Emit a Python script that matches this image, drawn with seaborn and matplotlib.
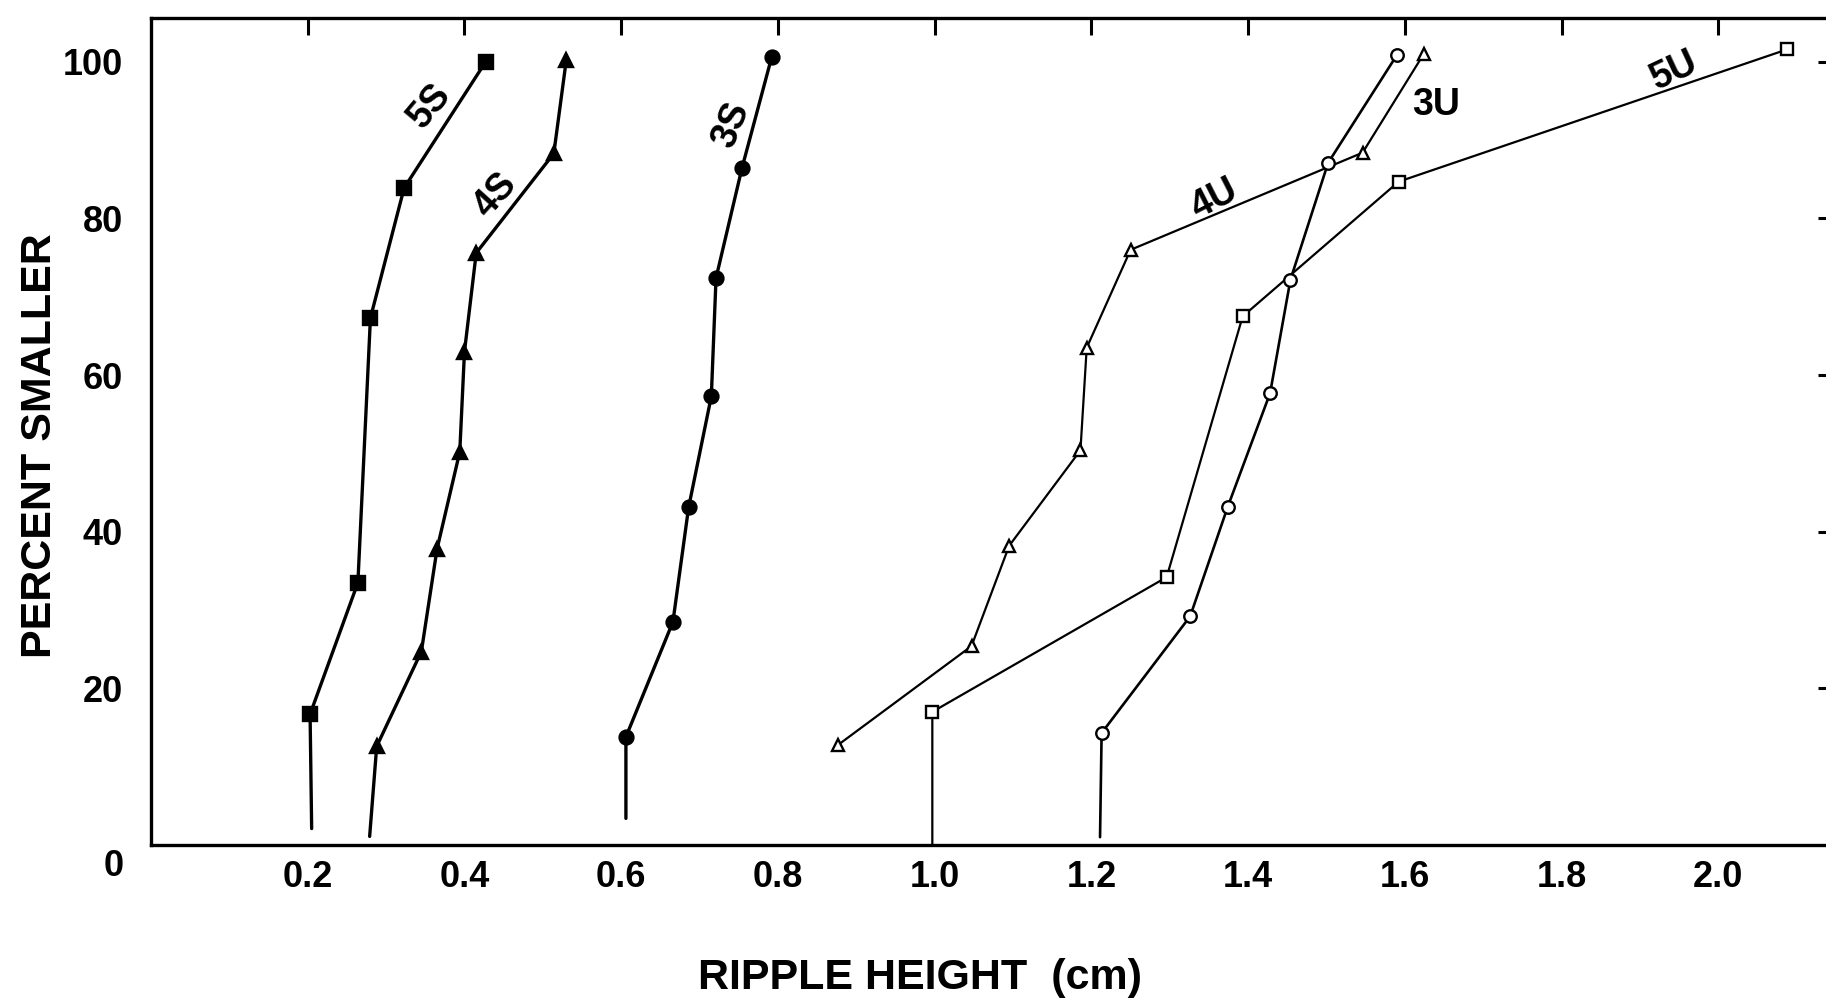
import matplotlib
matplotlib.use("Agg")
import matplotlib.pyplot as plt
import seaborn as sns
import pandas as pd

# ---------------- data ----------------
# first point of a series with a stub is the lower end of its vertical line (no marker)
s5_x = [0.205, 0.203, 0.264, 0.280, 0.323, 0.427]
s5_y = [2.1, 16.7, 33.5, 67.3, 83.9, 100.0]

s4_x = [0.279, 0.288, 0.345, 0.365, 0.394, 0.400, 0.415, 0.514, 0.530]
s4_y = [1.1, 12.6, 24.7, 37.8, 50.2, 63.0, 75.6, 88.3, 100.3]

s3_x = [0.606, 0.606, 0.666, 0.686, 0.715, 0.721, 0.754, 0.792]
s3_y = [3.4, 13.8, 28.5, 43.1, 57.3, 72.4, 86.4, 100.6]

u4_x = [0.877, 1.047, 1.095, 1.186, 1.194, 1.250, 1.546, 1.624]
u4_y = [12.8, 25.4, 38.2, 50.4, 63.5, 76.0, 88.4, 101.0]

u5_x = [0.997, 0.997, 1.296, 1.393, 1.592, 2.088]
u5_y = [0.0, 17.0, 34.2, 67.5, 84.7, 101.6]

u3_x = [1.211, 1.213, 1.326, 1.374, 1.428, 1.454, 1.502, 1.590]
u3_y = [1.0, 14.3, 29.2, 43.2, 57.7, 72.2, 87.1, 100.9]

x_ticks = [0.2, 0.4, 0.6, 0.8, 1.0, 1.2, 1.4, 1.6, 1.8, 2.0]
x_tick_labels = ["0.2", "0.4", "0.6", "0.8", "1.0", "1.2", "1.4", "1.6", "1.8", "2.0"]
y_ticks = [20, 40, 60, 80, 100]
y_tick_labels = ["20", "40", "60", "80", "100"]

series_labels = ["5S", "4S", "3S", "4U", "3U", "5U"]
label_x = [0.356, 0.439, 0.741, 1.357, 1.640, 1.944]
label_y = [94.3, 83.0, 91.9, 82.4, 94.5, 98.8]
label_rot = [50, 48, 68, 27, 0, 25]

x_label = "RIPPLE HEIGHT  (cm)"
y_label = "PERCENT SMALLER"

# ---------------- style ----------------
sns.set_theme(style="white")
plt.rcParams["font.family"] = ["Liberation Sans", "DejaVu Sans"]
plt.rcParams["font.weight"] = "bold"

W, H = 1826, 998
fig = plt.figure(figsize=(W / 100, H / 100), dpi=100)
fig.patch.set_facecolor("white")
ax = fig.add_axes([151 / W, 153 / H, (1832 - 151) / W, (845 - 18) / H])
ax.set_facecolor("white")

series = [
    (s5_x, s5_y, "s", "black", 2.4, True, 10),
    (s4_x, s4_y, "^", "black", 2.4, True, 10),
    (s3_x, s3_y, "o", "black", 2.4, True, 10),
    (u4_x, u4_y, "^", "white", 1.6, False, 9),
    (u5_x, u5_y, "s", "white", 1.6, True, 9),
    (u3_x, u3_y, "o", "white", 1.9, True, 9),
]

for xs, ys, mk, fc, lw, has_stub, ms in series:
    df = pd.DataFrame({"x": xs, "y": ys})
    start = 1 if has_stub else 0
    sns.lineplot(data=df, x="x", y="y", ax=ax, sort=False, estimator=None,
                 errorbar=None, color="black", linewidth=lw, marker=mk,
                 markersize=ms, markerfacecolor=fc, markeredgecolor="black",
                 markeredgewidth=1.7, markevery=list(range(start, len(xs))))

for txt, lx, ly, rot in zip(series_labels, label_x, label_y, label_rot):
    ax.text(lx, ly, txt, rotation=rot, rotation_mode="anchor",
            ha="center", va="center", fontsize=27, fontweight="bold", color="black")

ax.set_xlim(0, 2.145)
ax.set_ylim(0, 105.6)
ax.set_xticks(x_ticks)
ax.set_xticklabels(x_tick_labels)
ax.set_yticks(y_ticks)
ax.set_yticklabels(y_tick_labels)
ax.set_xlabel("")
ax.set_ylabel("")

ax.tick_params(axis="x", direction="in", length=12, width=2.2, top=True,
               labelsize=26, pad=11, colors="black")
ax.tick_params(axis="y", direction="in", length=10, width=2.2, right=True,
               labelsize=26, pad=20, colors="black")
for lab in ax.get_xticklabels() + ax.get_yticklabels():
    lab.set_fontweight("bold")

for sp in ax.spines.values():
    sp.set_color("black")
    sp.set_linewidth(2.4)
    sp.set_visible(True)

# origin label "0"
ax.text(-0.048, -2.8, "0", ha="center", va="center", fontsize=26,
        fontweight="bold", clip_on=False, color="black")

fig.text(920 / W, 1 - 978 / H, x_label, ha="center", va="center",
         fontsize=31, fontweight="bold", color="black")
fig.text(40 / W, 1 - 446 / H, y_label, ha="center", va="center",
         rotation=90, fontsize=31, fontweight="bold", color="black")

fig.savefig("out.png", dpi=100, facecolor="white")
